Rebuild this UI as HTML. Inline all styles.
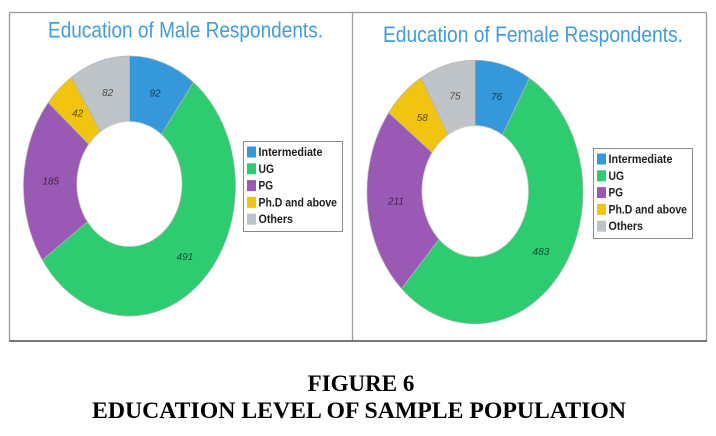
<!DOCTYPE html>
<html>
<head>
<meta charset="utf-8">
<style>
  html,body{margin:0;padding:0;background:#fff;}
  svg{display:block;}
</style>
</head>
<body>
<svg width="716" height="436" viewBox="0 0 716 436" xmlns="http://www.w3.org/2000/svg">
  <rect x="0" y="0" width="716" height="436" fill="#ffffff"/>

  <!-- Frame -->
  <line x1="9.5" y1="12.5" x2="706.5" y2="12.5" stroke="#9a9a9a" stroke-width="1.3"/>
  <line x1="9.5" y1="12.5" x2="9.5" y2="341" stroke="#9a9a9a" stroke-width="1.3"/>
  <line x1="706.5" y1="12.5" x2="706.5" y2="341" stroke="#9a9a9a" stroke-width="1.3"/>
  <line x1="352.5" y1="12.5" x2="352.5" y2="341" stroke="#a0a0a0" stroke-width="1.3"/>
  <line x1="9" y1="341" x2="707" y2="341" stroke="#777777" stroke-width="2"/>

  <!-- Titles -->
  <text x="48" y="37.5" font-family="Liberation Sans, sans-serif" font-size="22" fill="#3f9ddd" textLength="275" lengthAdjust="spacingAndGlyphs">Education of Male Respondents.</text>
  <text x="383" y="42" font-family="Liberation Sans, sans-serif" font-size="22" fill="#3f9ddd" textLength="300" lengthAdjust="spacingAndGlyphs">Education of Female Respondents.</text>

  <!-- Left donut -->
  <g transform="translate(129.5,186) scale(1,1.2264)" stroke="#b5b5b5" stroke-width="0.7">
    <path vector-effect="non-scaling-stroke" d="M0,0 L0,-106 A106,106 0 0 1 63.98,-84.51 Z" fill="#3498db"/>
    <path vector-effect="non-scaling-stroke" d="M0,0 L63.98,-84.51 A106,106 0 1 1 -87.14,60.36 Z" fill="#2ecc71"/>
    <path vector-effect="non-scaling-stroke" d="M0,0 L-87.14,60.36 A106,106 0 0 1 -81.25,-68.07 Z" fill="#9b59b6"/>
    <path vector-effect="non-scaling-stroke" d="M0,0 L-81.25,-68.07 A106,106 0 0 1 -57.88,-88.80 Z" fill="#f1c40f"/>
    <path vector-effect="non-scaling-stroke" d="M0,0 L-57.88,-88.80 A106,106 0 0 1 0,-106 Z" fill="#bdc3c7"/>
  </g>
  <ellipse cx="129.4" cy="184" rx="52.5" ry="62.5" fill="#ffffff" stroke="#d0d0d0" stroke-width="0.8"/>

  <g font-family="Liberation Sans, sans-serif" font-size="10" font-style="italic" fill="#000" fill-opacity="0.62" text-anchor="middle">
    <text x="155" y="96.5">92</text>
    <text x="107.7" y="96.2">82</text>
    <text x="77.7" y="116.5">42</text>
    <text x="50.7" y="184.5">185</text>
    <text x="185" y="260.2">491</text>
  </g>

  <!-- Left legend -->
  <rect x="243.5" y="141.5" width="99" height="90" fill="#ffffff" stroke="#8a8a8a" stroke-width="1"/>
  <rect x="247" y="146.5" width="9" height="11" fill="#3498db"/>
  <rect x="247" y="163.3" width="9" height="11" fill="#2ecc71"/>
  <rect x="247" y="180.1" width="9" height="11" fill="#9b59b6"/>
  <rect x="247" y="196.9" width="9" height="11" fill="#f1c40f"/>
  <rect x="247" y="213.7" width="9" height="11" fill="#bdc3c7"/>
  <g font-family="Liberation Sans, sans-serif" font-size="12" font-weight="bold" fill="#1e1e1e">
    <text x="258.5" y="156" textLength="64" lengthAdjust="spacingAndGlyphs">Intermediate</text>
    <text x="258.5" y="172.8" textLength="15.5" lengthAdjust="spacingAndGlyphs">UG</text>
    <text x="258.5" y="189.6" textLength="14.5" lengthAdjust="spacingAndGlyphs">PG</text>
    <text x="258.5" y="206.4" textLength="78.5" lengthAdjust="spacingAndGlyphs">Ph.D and above</text>
    <text x="258.5" y="223.2" textLength="34.5" lengthAdjust="spacingAndGlyphs">Others</text>
  </g>

  <!-- Right donut -->
  <g transform="translate(475,192) scale(1,1.2207)" stroke="#b5b5b5" stroke-width="0.7">
    <path vector-effect="non-scaling-stroke" d="M0,0 L0,-108 A108,108 0 0 1 54.49,-93.25 Z" fill="#3498db"/>
    <path vector-effect="non-scaling-stroke" d="M0,0 L54.49,-93.25 A108,108 0 1 1 -73.46,79.17 Z" fill="#2ecc71"/>
    <path vector-effect="non-scaling-stroke" d="M0,0 L-73.46,79.17 A108,108 0 0 1 -86.28,-64.96 Z" fill="#9b59b6"/>
    <path vector-effect="non-scaling-stroke" d="M0,0 L-86.28,-64.96 A108,108 0 0 1 -53.84,-93.63 Z" fill="#f1c40f"/>
    <path vector-effect="non-scaling-stroke" d="M0,0 L-53.84,-93.63 A108,108 0 0 1 0,-108 Z" fill="#bdc3c7"/>
  </g>
  <ellipse cx="475.2" cy="191.2" rx="53.2" ry="65.5" fill="#ffffff" stroke="#d0d0d0" stroke-width="0.8"/>

  <g font-family="Liberation Sans, sans-serif" font-size="10" font-style="italic" fill="#000" fill-opacity="0.62" text-anchor="middle">
    <text x="496.7" y="100.2">76</text>
    <text x="455" y="99.5">75</text>
    <text x="422.3" y="121.2">58</text>
    <text x="396" y="204.5">211</text>
    <text x="541" y="255.2">483</text>
  </g>

  <!-- Right legend -->
  <rect x="593.5" y="148.5" width="99" height="90" fill="#ffffff" stroke="#8a8a8a" stroke-width="1"/>
  <rect x="597" y="153.5" width="9" height="11" fill="#3498db"/>
  <rect x="597" y="170.3" width="9" height="11" fill="#2ecc71"/>
  <rect x="597" y="187.1" width="9" height="11" fill="#9b59b6"/>
  <rect x="597" y="203.9" width="9" height="11" fill="#f1c40f"/>
  <rect x="597" y="220.7" width="9" height="11" fill="#bdc3c7"/>
  <g font-family="Liberation Sans, sans-serif" font-size="12" font-weight="bold" fill="#1e1e1e">
    <text x="608.5" y="163" textLength="64" lengthAdjust="spacingAndGlyphs">Intermediate</text>
    <text x="608.5" y="179.8" textLength="15.5" lengthAdjust="spacingAndGlyphs">UG</text>
    <text x="608.5" y="196.6" textLength="14.5" lengthAdjust="spacingAndGlyphs">PG</text>
    <text x="608.5" y="213.4" textLength="78.5" lengthAdjust="spacingAndGlyphs">Ph.D and above</text>
    <text x="608.5" y="230.2" textLength="34.5" lengthAdjust="spacingAndGlyphs">Others</text>
  </g>

  <!-- Caption -->
  <g font-family="Liberation Serif, serif" font-weight="bold" fill="#000" text-anchor="middle">
    <text x="361" y="391" font-size="23">FIGURE 6</text>
    <text x="359" y="418" font-size="23" textLength="534" lengthAdjust="spacingAndGlyphs">EDUCATION LEVEL OF SAMPLE POPULATION</text>
  </g>
</svg>
</body>
</html>
